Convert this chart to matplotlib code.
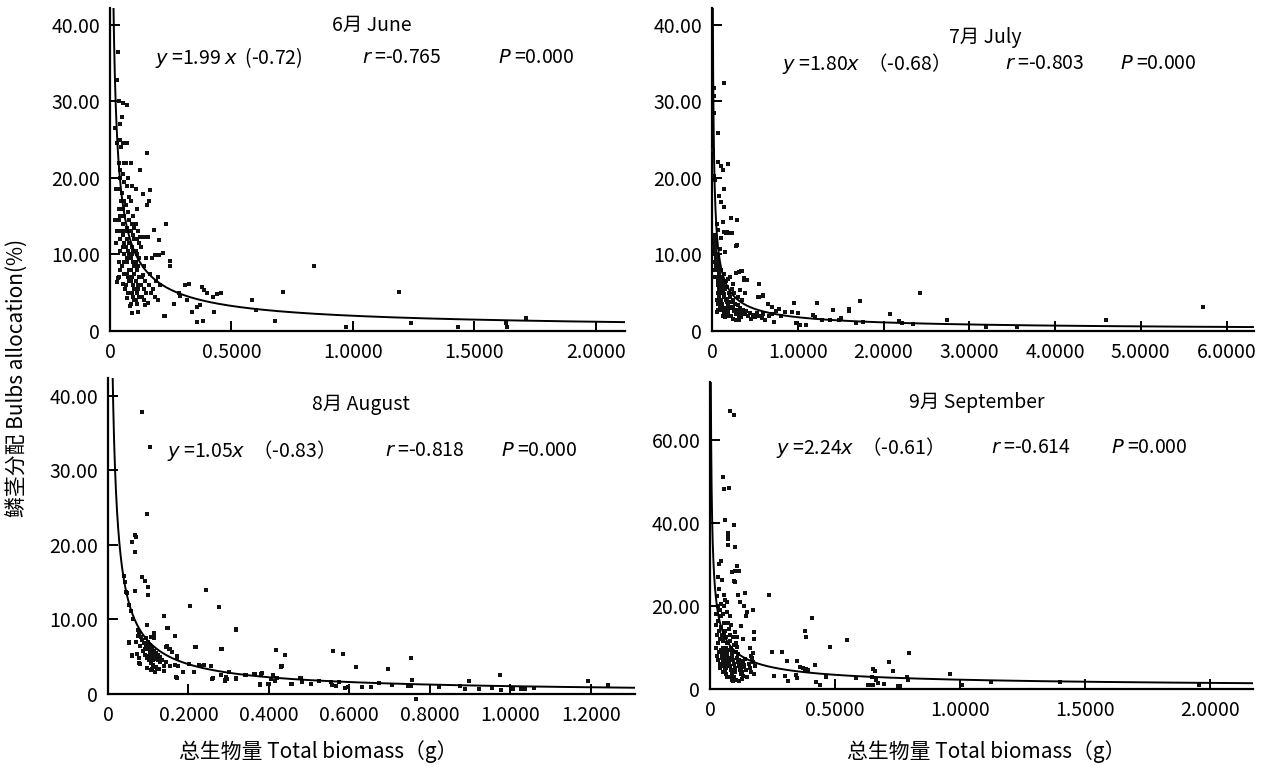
import numpy as np
import matplotlib
matplotlib.use("Agg")
import matplotlib.pyplot as plt
from matplotlib.ticker import FuncFormatter

plt.rcParams['font.family'] = ['Noto Sans CJK SC', 'DejaVu Sans']
plt.rcParams['mathtext.fontset'] = 'dejavusans'
plt.rcParams['axes.unicode_minus'] = False

# ---------------- data ----------------
months = ["6月 June", "7月 July", "8月 August", "9月 September"]
fit_a = [1.99, 1.80, 1.05, 2.24]
fit_b = [-0.72, -0.68, -0.83, -0.61]
eq_part1 = ["$y$ =1.99 $x$  (-0.72)", "$y$ =1.80$x$  （-0.68）",
            "$y$ =1.05$x$  （-0.83）", "$y$ =2.24$x$  （-0.61）"]
eq_part2 = ["$r$ =-0.765", "$r$ =-0.803", "$r$ =-0.818", "$r$ =-0.614"]
eq_part3 = ["$P$ =0.000", "$P$ =0.000", "$P$ =0.000", "$P$ =0.000"]

june_pts = [
    (0.033,36.5),(0.030,32.8),(0.151,23.3),(0.123,21.0),(0.165,18.4),(0.134,17.9),(0.159,17.0),(0.152,16.4),
    (0.106,18.6),(0.111,16.0),(0.229,14.0),(0.182,13.2),(0.125,12.3),(0.135,12.3),(0.145,12.3),(0.155,12.3),
    (0.200,11.9),(0.219,10.2),(0.185,9.9),(0.200,9.9),(0.172,9.5),(0.150,9.6),(0.245,9.2),(0.245,8.5),
    (0.137,7.3),(0.199,7.0),(0.206,6.0),(0.309,6.0),(0.325,6.2),(0.285,5.0),(0.290,4.6),(0.318,4.1),
    (0.263,3.5),(0.377,5.8),(0.387,5.3),(0.398,5.0),(0.425,4.5),(0.442,4.8),(0.456,4.9),(0.370,3.4),
    (0.357,3.2),(0.339,2.5),(0.429,2.5),(0.357,1.2),(0.384,1.3),(0.224,1.9),(0.583,4.05),(0.601,2.7),
    (0.679,1.3),(0.713,5.1),(0.841,8.5),(0.971,0.57),(1.19,5.1),(1.24,1.0),(1.433,0.52),(1.632,1.09),
    (1.636,0.52),(1.714,1.65),(0.089,2.3),(0.117,2.5),(0.082,3.3),(0.069,4.3),(0.144,3.4),(0.158,3.7),
    (0.185,4.5),(0.199,4.1),(0.034,6.9),(0.028,6.4),(0.038,7.1),(0.055,6.2),(0.226,1.9),
    (0.022,26.5),(0.027,24.5),(0.025,18.5),(0.021,14.5),(0.028,13.0),(0.024,11.5),
    (0.036,30.0),(0.042,27.0),(0.040,25.0),(0.044,24.0),(0.038,22.0),(0.041,21.0),(0.043,20.0),(0.037,18.5),
    (0.045,17.0),(0.039,16.0),(0.042,15.0),(0.036,14.5),(0.044,13.0),(0.040,12.0),(0.043,10.5),(0.038,9.0),
    (0.041,8.0),(0.052,29.8),(0.050,28.0),(0.055,24.5),(0.058,22.0),(0.053,20.5),(0.056,19.5),(0.051,18.0),
    (0.059,17.0),(0.054,16.0),(0.057,15.0),(0.052,14.0),(0.060,13.0),(0.055,12.5),(0.058,11.5),(0.053,11.0),
    (0.056,10.0),(0.059,9.0),(0.051,8.5),(0.057,7.5),(0.060,5.5),(0.068,29.5),(0.072,24.5),(0.066,22.0),
    (0.075,20.0),(0.070,19.0),(0.078,17.5),(0.067,16.5),(0.073,15.5),(0.079,14.5),(0.069,13.5),(0.076,13.0),
    (0.071,12.0),(0.080,11.5),(0.066,11.0),(0.074,10.5),(0.078,10.0),(0.068,9.5),(0.072,9.0),(0.077,8.0),
    (0.070,7.5),(0.075,7.0),(0.079,6.5),(0.067,6.0),(0.073,5.0),(0.088,22.0),(0.092,19.0),(0.086,17.0),
    (0.095,15.0),(0.090,14.0),(0.098,13.5),(0.087,13.0),(0.093,12.5),(0.099,12.0),(0.089,11.0),(0.096,10.5),
    (0.091,10.0),(0.085,9.5),(0.094,9.0),(0.100,8.5),(0.088,8.0),(0.097,7.5),(0.092,7.0),(0.086,6.5),
    (0.095,6.0),(0.099,5.5),(0.090,5.0),(0.093,4.5),(0.097,4.0),(0.087,3.5),(0.108,14.0),(0.115,13.0),
    (0.110,12.0),(0.118,11.5),(0.106,10.5),(0.113,10.0),(0.120,9.5),(0.109,9.0),(0.116,8.5),(0.112,8.0),
    (0.119,7.0),(0.107,6.5),(0.114,6.0),(0.117,5.5),(0.110,5.0),(0.120,4.5),(0.105,4.0),(0.113,3.5),
    (0.128,11.0),(0.140,8.5),(0.132,7.0),(0.146,6.5),(0.127,6.0),(0.138,5.5),(0.148,5.0),(0.130,4.5),
    (0.142,4.0),(0.165,7.5),(0.178,5.5),(0.170,5.0),(0.190,6.5),(0.160,6.0),
]

july_pts = [
    (0.14,32.4),(0.02,31.7),(0.025,30.7),(0.02,28.5),(0.075,25.9),(0.015,23.7),(0.065,22.1),(0.10,21.5),
    (0.126,21.0),(0.19,21.8),(0.02,20.2),(0.03,19.7),(0.14,18.6),(0.085,17.6),(0.11,16.9),(0.14,16.2),
    (0.226,14.7),(0.286,14.5),(0.166,12.75),(0.2,12.75),(0.236,12.75),(0.276,11.1),(0.126,14.3),(0.075,13.2),
    (0.342,7.9),(0.276,7.6),(0.377,6.9),(0.40,6.6),(0.553,6.1),(0.54,4.5),(0.60,4.7),(0.70,3.1),(0.78,2.9),
    (0.85,2.5),(0.93,2.5),(1.0,2.4),(0.955,3.6),(1.23,3.6),(1.41,2.8),(1.60,2.9),(1.60,2.6),(1.72,3.9),
    (1.51,1.74),(1.68,1.0),(1.76,1.2),(2.08,2.2),(2.18,1.3),(2.21,1.0),(2.34,0.87),(2.43,5.0),(2.74,1.5),
    (3.19,0.57),(3.56,0.57),(4.60,1.44),(5.73,3.1),(0.98,1.0),(1.03,0.75),(1.10,0.75),(1.18,2.05),(1.20,1.8),
    (1.38,1.4),(1.48,1.5),(1.28,1.4),(0.65,3.5),(0.55,4.4),(0.60,4.6),(0.33,5.3),(0.39,5.0),(0.31,7.7),
    (0.35,7.8),(0.37,6.7),(0.41,6.7),(0.29,11.2),(0.05,10.1),(0.09,10.7),(0.15,10.3),(0.06,14.0),(0.14,12.9),
    (0.17,12.9),(0.11,12.1),
    (0.022,12.5),(0.025,11.0),(0.03,10.0),(0.028,9.0),(0.035,12.0),(0.04,11.5),(0.038,10.5),(0.045,9.5),
    (0.042,8.5),(0.05,11.0),(0.048,9.0),(0.033,8.0),(0.026,7.0),(0.055,10.0),(0.06,9.5),(0.065,9.0),
    (0.07,8.5),(0.058,8.0),(0.075,8.0),(0.08,7.5),(0.085,7.0),(0.062,7.0),(0.068,6.5),(0.09,6.5),(0.095,6.0),
    (0.072,6.0),(0.078,5.5),(0.088,5.0),(0.1,5.5),(0.065,5.0),(0.082,4.5),(0.093,4.0),(0.07,3.5),(0.06,4.0),
    (0.098,3.0),(0.055,2.5),(0.075,2.8),(0.105,8.0),(0.11,7.0),(0.12,6.5),(0.13,6.0),(0.14,7.5),(0.115,5.5),
    (0.125,5.0),(0.135,4.8),(0.145,4.5),(0.15,5.5),(0.16,4.0),(0.17,4.2),(0.18,3.8),(0.19,3.5),(0.105,4.0),
    (0.12,3.5),(0.13,3.0),(0.14,2.5),(0.155,3.0),(0.165,2.8),(0.175,2.2),(0.185,2.5),(0.195,3.0),(0.11,2.8),
    (0.125,2.0),(0.15,1.8),(0.16,6.5),(0.18,5.8),(0.2,5.0),(0.19,6.8),(0.17,2.0),(0.21,4.5),(0.22,3.8),
    (0.23,3.2),(0.24,4.0),(0.25,3.0),(0.26,2.6),(0.27,3.5),(0.28,2.2),(0.29,2.8),(0.3,3.4),(0.31,2.0),
    (0.32,2.5),(0.33,3.0),(0.34,1.8),(0.35,2.4),(0.36,2.8),(0.38,2.2),(0.40,2.6),(0.42,1.9),(0.44,2.3),
    (0.46,1.6),(0.48,2.1),(0.5,1.8),(0.22,2.0),(0.25,1.6),(0.28,1.5),(0.32,1.5),(0.23,5.5),(0.26,5.0),
    (0.3,4.5),(0.35,4.0),(0.25,6.2),(0.21,7.0),(0.52,2.4),(0.55,2.0),(0.6,2.2),(0.58,1.7),(0.62,1.5),
    (0.66,1.9),(0.7,2.2),(0.72,1.2),(0.75,2.6),(0.8,2.0),
]

aug_pts = [
    (0.085,37.8),(0.104,33.1),(0.098,24.2),(0.067,21.3),(0.069,21.0),(0.060,20.4),(0.067,19.0),(0.085,15.7),
    (0.093,15.2),(0.100,14.3),(0.100,13.3),(0.039,15.9),(0.043,15.0),(0.045,13.7),(0.047,13.5),(0.067,13.8),
    (0.052,11.9),(0.057,11.2),(0.062,10.1),(0.098,9.2),(0.140,10.4),(0.147,8.9),(0.166,7.8),(0.114,8.1),
    (0.078,8.1),(0.083,7.6),(0.052,6.9),(0.059,5.1),(0.073,5.4),(0.080,4.0),(0.204,11.8),(0.244,13.9),
    (0.277,11.7),(0.318,8.6),(0.282,6.1),(0.218,6.3),(0.145,6.3),(0.152,6.0),(0.171,5.1),(0.160,5.6),
    (0.171,4.8),(0.171,2.2),(0.187,2.9),(0.202,4.0),(0.213,2.9),(0.228,3.8),(0.238,3.9),(0.256,3.7),
    (0.259,2.0),(0.280,2.5),(0.290,1.8),(0.295,2.0),(0.318,2.0),(0.300,2.9),(0.342,2.6),(0.363,2.7),
    (0.380,2.7),(0.378,1.25),(0.400,1.35),(0.410,2.5),(0.418,5.9),(0.430,3.6),(0.432,3.8),(0.439,5.3),
    (0.405,2.0),(0.415,1.8),(0.456,1.35),(0.477,2.15),(0.482,1.6),(0.505,1.4),(0.524,1.7),(0.555,1.6),
    (0.557,1.25),(0.560,5.8),(0.567,1.1),(0.575,1.6),(0.584,5.4),(0.588,0.8),(0.596,0.9),(0.617,3.6),
    (0.632,0.9),(0.653,0.9),(0.674,1.5),(0.695,3.4),(0.705,1.25),(0.746,1.1),(0.754,1.1),(0.754,4.8),
    (0.755,1.9),(0.765,-0.7),(0.824,0.9),(0.875,1.1),(0.888,0.67),(0.897,1.7),(0.923,0.67),(0.954,0.8),
    (0.975,2.5),(0.977,0.58),(1.006,0.67),(1.026,0.67),(1.037,0.67),(1.058,0.8),(1.192,1.7),(1.244,1.25),
    (0.085,7.2),(0.090,6.8),(0.095,6.4),(0.100,6.0),(0.105,5.6),(0.110,5.3),(0.115,5.0),(0.120,4.7),
    (0.125,4.5),(0.130,4.3),(0.088,5.8),(0.092,5.2),(0.097,4.8),(0.102,4.5),(0.107,4.2),(0.112,3.9),
    (0.117,3.6),(0.122,3.3),(0.095,7.5),(0.100,7.0),(0.105,6.6),(0.110,6.2),(0.115,5.8),(0.120,5.5),
    (0.125,5.2),(0.130,5.0),(0.098,3.5),(0.108,3.2),(0.118,3.0),(0.128,3.4),(0.135,4.6),(0.140,3.8),
    (0.145,4.3),(0.075,7.8),(0.080,6.5),(0.070,7.0),(0.108,4.9),(0.113,4.6),(0.103,5.1),(0.093,6.1),
    (0.060,5.2),(0.077,4.8),(0.077,4.1),(0.110,3.4),(0.120,3.6),(0.138,3.75),(0.140,3.1),(0.153,3.7),
    (0.166,3.9),(0.174,3.7),(0.170,2.3),(0.187,3.0),(0.214,2.9),(0.226,3.9),(0.262,2.1),(0.281,2.5),
    (0.294,2.3),(0.291,1.9),(0.319,2.1),(0.340,2.5),(0.366,2.7),(0.383,2.8),(0.379,1.4),(0.398,1.4),
    (0.421,2.2),(0.431,3.7),(0.458,1.4),(0.480,2.2),(0.319,8.7),(0.283,6.1),(0.217,6.25),(0.147,6.4),
    (0.153,6.1),(0.149,8.9),(0.115,8.2),(0.075,8.6),(0.051,7.0),(0.106,7.7),(0.115,7.5),
]

sep_pts = [
    (0.081,67.0),(0.097,66.1),(0.051,51.0),(0.057,48.2),(0.074,48.4),(0.061,40.7),(0.095,39.6),(0.070,37.6),
    (0.070,36.8),(0.071,36.1),(0.072,34.7),(0.101,34.2),(0.034,30.2),(0.043,30.8),(0.108,29.6),(0.115,28.5),
    (0.101,28.5),(0.030,27.1),(0.047,26.3),(0.088,28.2),(0.095,26.1),(0.101,25.7),(0.139,23.2),(0.110,22.6),
    (0.120,21.0),(0.054,22.6),(0.061,21.4),(0.068,21.0),(0.173,19.1),(0.135,20.0),(0.149,18.5),(0.142,17.7),
    (0.122,15.3),(0.101,13.7),(0.176,13.7),(0.176,12.1),(0.132,12.1),(0.108,10.1),(0.173,8.7),(0.169,7.5),
    (0.135,5.9),
    (0.235,22.6),(0.407,17.1),(0.379,13.9),(0.385,12.5),(0.546,11.7),(0.479,10.2),(0.248,8.8),(0.288,8.8),
    (0.794,8.6),(0.307,6.8),(0.348,6.8),(0.714,6.6),(0.420,5.8),(0.360,5.4),(0.370,5.0),(0.380,4.6),
    (0.385,4.8),(0.390,4.6),(0.652,4.8),(0.660,4.4),(0.732,4.4),(0.958,3.6),(0.256,3.1),(0.299,3.25),
    (0.343,3.4),(0.348,2.6),(0.311,2.0),(0.463,3.0),(0.583,2.6),(0.647,3.0),(0.663,2.2),(0.788,3.0),
    (0.790,2.2),(0.423,1.8),(0.440,0.87),(0.631,0.9),(0.640,0.9),(0.650,0.9),(0.673,1.4),(0.695,1.3),
    (0.750,0.8),(0.760,0.8),(1.006,0.87),(1.123,1.67),(1.398,1.8),(1.954,1.0),
    (0.022,18.0),(0.025,15.5),(0.028,13.0),(0.030,11.0),(0.032,16.5),(0.035,14.0),(0.038,12.0),(0.024,10.0),
    (0.036,9.0),(0.027,8.0),(0.033,7.0),(0.039,6.0),(0.030,20.0),(0.026,22.5),(0.034,24.0),(0.040,19.0),
    (0.042,17.5),(0.045,15.0),(0.048,13.0),(0.050,11.5),(0.052,10.0),(0.055,9.0),(0.058,8.0),(0.060,7.0),
    (0.062,6.0),(0.065,5.0),(0.043,9.5),(0.046,8.5),(0.049,7.5),(0.053,6.5),(0.056,5.5),(0.059,4.5),
    (0.063,3.5),(0.067,3.0),(0.044,20.5),(0.050,18.0),(0.055,16.0),(0.060,14.0),(0.065,12.5),(0.068,11.0),
    (0.047,12.0),(0.057,13.0),(0.063,10.0),(0.069,8.5),(0.041,5.0),(0.051,4.0),(0.066,18.5),(0.054,20.0),
    (0.072,16.0),(0.075,14.5),(0.078,13.0),(0.080,11.5),(0.083,10.0),(0.086,9.0),(0.089,8.0),(0.092,7.0),
    (0.095,6.0),(0.098,5.0),(0.071,9.5),(0.074,7.5),(0.077,6.5),(0.081,5.5),(0.084,4.5),(0.087,3.5),
    (0.090,2.5),(0.093,2.0),(0.096,3.0),(0.099,4.0),(0.073,11.0),(0.079,17.5),(0.085,15.5),(0.091,12.5),
    (0.097,10.5),(0.082,2.8),(0.088,2.2),(0.102,9.0),(0.106,7.5),(0.110,6.5),(0.114,5.5),(0.118,4.5),
    (0.122,3.5),(0.126,2.5),(0.130,3.2),(0.104,11.0),(0.108,12.5),(0.112,8.5),(0.116,7.0),(0.120,6.0),
    (0.124,5.0),(0.128,4.0),(0.132,6.8),(0.136,5.2),(0.140,7.2),(0.145,4.5),(0.148,3.0),(0.103,2.2),
    (0.115,2.0),(0.155,6.0),(0.160,5.0),(0.165,4.2),(0.170,6.5),(0.175,3.5),(0.180,5.5),(0.158,9.8),
    (0.162,8.0),
]

all_pts = [june_pts, july_pts, aug_pts, sep_pts]

x_ticks = [[0, 0.5, 1.0, 1.5, 2.0], [0, 1, 2, 3, 4, 5, 6],
           [0, 0.2, 0.4, 0.6, 0.8, 1.0, 1.2], [0, 0.5, 1.0, 1.5, 2.0]]
y_ticks = [[0, 10, 20, 30, 40], [0, 10, 20, 30, 40],
           [0, 10, 20, 30, 40], [0, 20, 40, 60]]
x_max = [2.12, 6.32, 1.31, 2.17]
y_max = [42.2, 42.2, 42.4, 74.0]

# ---------------- layout ----------------
W, H = 1263, 767
fig = plt.figure(figsize=(W / 100, H / 100), dpi=100)

def px_axes(l, r, b, t):
    return [l / W, 1 - b / H, (r - l) / W, (b - t) / H]

rects = [px_axes(110, 625, 331, 8), px_axes(712, 1254, 331, 8),
         px_axes(108, 635, 694, 378), px_axes(710, 1253, 689, 382)]
title_x = [0.509, 0.504, 0.48, 0.492]
title_y = [0.947, 0.91, 0.915, 0.932]
eq_y = [0.848, 0.827, 0.772, 0.788]
eq_x1 = [0.087, 0.129, 0.112, 0.122]
eq_x2 = [0.489, 0.541, 0.526, 0.517]
eq_x3 = [0.753, 0.753, 0.746, 0.738]

FS = 14

def yfmt(v, pos):
    return "0" if abs(v) < 1e-9 else f"{v:.2f}"

def xfmt(v, pos):
    return "0" if abs(v) < 1e-9 else f"{v:.4f}"

for i in range(4):
    ax = fig.add_axes(rects[i])
    pts = np.array(all_pts[i])
    ax.scatter(pts[:, 0], pts[:, 1], s=9, marker='s', color='#111111',
               linewidths=0, clip_on=False, zorder=3)
    a, b = fit_a[i], fit_b[i]
    x0 = (y_max[i] * 1.05 / a) ** (1.0 / b)
    xs = np.geomspace(x0, x_max[i], 600)
    ax.plot(xs, a * xs ** b, color='black', lw=1.4, zorder=4)

    ax.set_xlim(0, x_max[i])
    ax.set_ylim(0, y_max[i])
    ax.set_xticks(x_ticks[i])
    ax.set_yticks(y_ticks[i])
    ax.xaxis.set_major_formatter(FuncFormatter(xfmt))
    ax.yaxis.set_major_formatter(FuncFormatter(yfmt))
    for s in ['top', 'right']:
        ax.spines[s].set_visible(False)
    for s in ['left', 'bottom']:
        ax.spines[s].set_linewidth(1.6)
    ax.tick_params(axis='both', direction='in', length=7, width=1.4,
                   labelsize=FS, colors='black')
    ax.tick_params(axis='y', pad=7)
    ax.tick_params(axis='x', pad=8)

    ax.text(title_x[i], title_y[i], months[i], transform=ax.transAxes,
            ha='center', va='center', fontsize=FS)
    for xx, txt in zip([eq_x1[i], eq_x2[i], eq_x3[i]],
                       [eq_part1[i], eq_part2[i], eq_part3[i]]):
        ax.text(xx, eq_y[i], txt, transform=ax.transAxes,
                ha='left', va='center', fontsize=FS)

fig.text(18 / W, 1 - 378 / H, "鳞茎分配 Bulbs allocation(%)", rotation=90,
         ha='center', va='center', fontsize=FS + 1)
fig.text(318 / W, 1 - 752 / H, "总生物量 Total biomass（g）",
         ha='center', va='center', fontsize=FS + 1)
fig.text(986 / W, 1 - 752 / H, "总生物量 Total biomass（g）",
         ha='center', va='center', fontsize=FS + 1)

fig.savefig("out.png", dpi=100, facecolor='white')
